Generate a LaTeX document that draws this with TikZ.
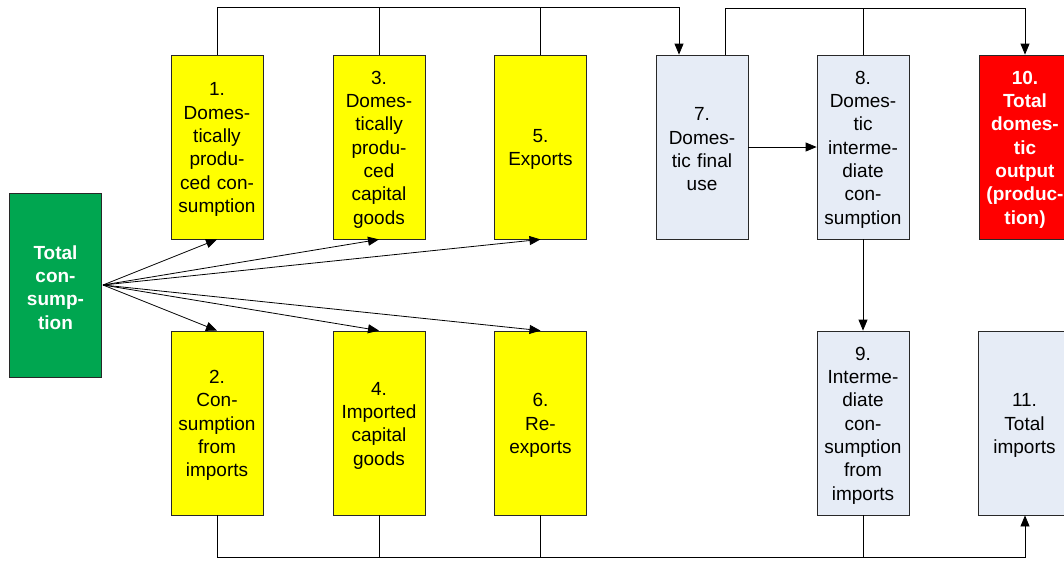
\documentclass[tikz,border=0pt]{standalone}
\usepackage{fontspec}
\setmainfont{Liberation Sans}
\usetikzlibrary{arrows.meta}
\definecolor{boxyellow}{RGB}{255,255,0}
\definecolor{boxgreen}{RGB}{0,166,80}
\definecolor{boxblue}{RGB}{230,236,246}
\definecolor{boxred}{RGB}{255,0,0}
\definecolor{edgegray}{RGB}{40,40,40}
\tikzset{
  box/.style={draw=edgegray, line width=0.8pt, minimum width=92pt, minimum height=184pt,
    inner sep=0pt},
  ybox/.style={box, fill=boxyellow},
  bbox/.style={box, fill=boxblue},
  gbox/.style={box, fill=boxgreen},
  rbox/.style={box, fill=boxred},
  txt/.style={inner sep=0pt, text width=90pt, align=center, yshift=-2.5pt,
    font=\fontsize{19}{23.3}\selectfont},
  wtxt/.style={txt, text=white, font=\fontsize{19}{23.3}\selectfont\bfseries},
  conn/.style={line width=0.8pt, draw=black},
  arr/.style={conn, -{Triangle[length=11pt,width=9pt]}}
}
\newcommand\boxnode[5]{\node[#1] (#2) at (#3) {};
  \node[#4] (#2t) at (#2.center) {#5};}
\begin{document}
\begin{tikzpicture}[x=1pt,y=-1pt]
\useasboundingbox (0,0) rectangle (1064,560);
\clip (0,0) rectangle (1064,560);
% boxes
\boxnode{gbox}{tc}{55.5,285}{wtxt}{Total\\con-\\sump-\\tion}
\boxnode{ybox}{b1}{217,147}{txt}{1.\\Domes-\\tically\\produ-\\ced con-\\sumption}
\boxnode{ybox}{b3}{379,147}{txt}{3.\\Domes-\\tically\\produ-\\ced\\capital\\goods}
\boxnode{ybox}{b5}{540.5,147}{txt}{5.\\Exports}
\boxnode{bbox}{b7}{702,147}{txt}{7.\\Domes-\\tic final\\use}
\boxnode{bbox}{b8}{863,147}{txt}{8.\\Domes-\\tic\\interme-\\diate\\con-\\sumption}
\boxnode{rbox}{b10}{1025,147}{wtxt}{10.\\Total\\domes-\\tic\\output\\(produc-\\tion)}
\boxnode{ybox}{b2}{217,423}{txt}{2.\\Con-\\sumption\\from\\imports}
\boxnode{ybox}{b4}{379,423}{txt}{4.\\Imported\\capital\\goods}
\boxnode{ybox}{b6}{540.5,423}{txt}{6.\\Re-\\exports}
\boxnode{bbox}{b9}{863,423}{txt}{9.\\Interme-\\diate\\con-\\sumption\\from\\imports}
\boxnode{bbox}{b11}{1024.5,423}{txt}{11.\\Total\\imports}
% fan from total consumption
\coordinate (tcs) at (103,285);
\draw[arr] (tcs) -- (b1.south);
\draw[arr] (tcs) -- (b3.south);
\draw[arr] (tcs) -- (b5.south);
\draw[arr] (tcs) -- (b2.north);
\draw[arr] (tcs) -- (b4.north);
\draw[arr] (tcs) -- (b6.north);
% top left bus
\coordinate (t1) at (679,7);
\draw[arr] (b1.north) |- (t1) -- (b7.north -| t1);
\draw[conn] (b3.north) -- (b3.north |- t1);
\draw[conn] (b5.north) -- (b5.north |- t1);
% top right bus
\coordinate (s7) at (725,8);
\draw[arr] (b7.north -| s7) -- (s7) -| (b10.north);
\draw[conn] (b8.north) -- (b8.north |- s7);
% middle arrows
\draw[arr] (b7.east) -- (b8.west);
\draw[arr] (b8.south) -- (b9.north);
% bottom bus
\coordinate (bt) at (1025,557);
\draw[arr] (b2.south) |- (bt) -- (b11.south -| bt);
\draw[conn] (b4.south) -- (b4.south |- bt);
\draw[conn] (b6.south) -- (b6.south |- bt);
\draw[conn] (b9.south) -- (b9.south |- bt);
\end{tikzpicture}
\end{document}
